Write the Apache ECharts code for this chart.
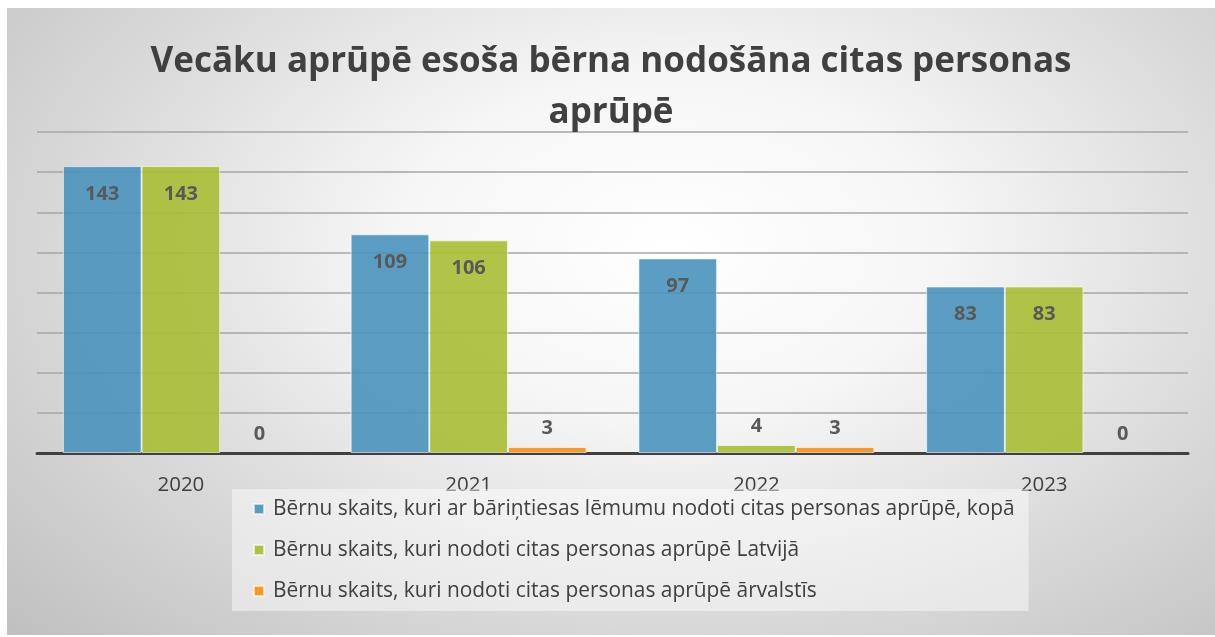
<!DOCTYPE html>
<html lang="lv" style="height: 100%">

<head>
    <meta charset="utf-8">
</head>

<body style="height: 100%; margin: 0; background: #ffffff;">
    <div id="container" style="position: absolute; left: 7px; top: 8px; right: 0; bottom: 2px;
        background: radial-gradient(ellipse 75% 90% at 55% 38%, #ffffff 0%, #f6f6f6 30%, #dadada 65%, #c0c0c0 100%);"></div>

    <script type="text/javascript" src="https://cdn.jsdelivr.net/npm/echarts@6/dist/echarts.min.js"></script>
    <script type="text/javascript">
        var years = ['2020', '2021', '2022', '2023'];
        var seriesNames = [
            'Bērnu skaits, kuri ar bāriņtiesas lēmumu nodoti citas personas aprūpē, kopā',
            'Bērnu skaits, kuri nodoti citas personas aprūpē Latvijā',
            'Bērnu skaits, kuri nodoti citas personas aprūpē ārvalstīs'
        ];
        var totalValues = [143, 109, 97, 83];
        var latviaValues = [143, 106, 4, 83];
        var abroadValues = [0, 3, 3, 0];

        var colors = ['rgba(74, 146, 188, 0.9)', 'rgba(170, 190, 52, 0.9)', 'rgba(245, 150, 30, 0.95)'];
        var textColor = '#595959';

        // mazām vērtībām etiķete virs stabiņa
        function withLabels(values) {
            return values.map(function (v) {
                if (v === 0) {
                    return { value: v, itemStyle: { borderWidth: 0 }, label: { position: 'top', distance: 9 } };
                }
                if (v < 10) {
                    return { value: v, label: { position: 'top', distance: 9 } };
                }
                return v;
            });
        }

        function makeSeries(name, values, color) {
            return {
                name: name,
                type: 'bar',
                data: withLabels(values),
                barGap: '0%',
                barCategoryGap: '18%',
                itemStyle: {
                    color: color,
                    borderColor: 'rgba(255, 255, 255, 0.6)',
                    borderWidth: 1
                },
                label: {
                    show: true,
                    position: 'insideTop',
                    distance: 18,
                    color: textColor,
                    fontFamily: 'Open Sans',
                    fontWeight: 'bold',
                    fontSize: 20
                }
            };
        }

        var dom = document.getElementById('container');
        var myChart = echarts.init(dom, null, { renderer: 'canvas' });

        var option = {
            backgroundColor: 'transparent',
            title: {
                text: 'Vecāku aprūpē esoša bērna nodošāna citas personas\naprūpē',
                left: 'center',
                top: 24,
                textStyle: {
                    color: '#404040',
                    fontFamily: 'Open Sans',
                    fontWeight: 'bold',
                    fontSize: 35,
                    lineHeight: 51
                }
            },
            legend: {
                orient: 'vertical',
                left: 225,
                top: 481,
                itemWidth: 10,
                itemHeight: 10,
                itemGap: 17,
                icon: 'rect',
                padding: [8, 14, 8, 21],
                backgroundColor: 'rgba(255, 255, 255, 0.45)',
                textStyle: {
                    color: '#404040',
                    fontFamily: 'Open Sans',
                    fontSize: 20.9,
                    lineHeight: 24,
                    padding: [0, 0, 0, 4]
                },
                data: seriesNames
            },
            grid: {
                left: 30,
                right: 27,
                top: 124,
                bottom: 182,
                containLabel: false
            },
            xAxis: {
                type: 'category',
                data: years,
                axisLine: { lineStyle: { color: '#404040', width: 3 } },
                axisTick: { show: false },
                axisLabel: {
                    color: '#404040',
                    fontFamily: 'Open Sans',
                    fontSize: 20.5,
                    margin: 22
                }
            },
            yAxis: {
                type: 'value',
                min: 0,
                max: 160,
                interval: 20,
                axisLine: { show: false },
                axisTick: { show: false },
                axisLabel: { show: false },
                splitLine: { lineStyle: { color: '#a6a6a6', width: 1.5 } }
            },
            series: [
                makeSeries(seriesNames[0], totalValues, colors[0]),
                makeSeries(seriesNames[1], latviaValues, colors[1]),
                makeSeries(seriesNames[2], abroadValues, colors[2])
            ]
        };

        myChart.setOption(option);
        window.addEventListener('resize', myChart.resize);
    </script>
</body>

</html>
